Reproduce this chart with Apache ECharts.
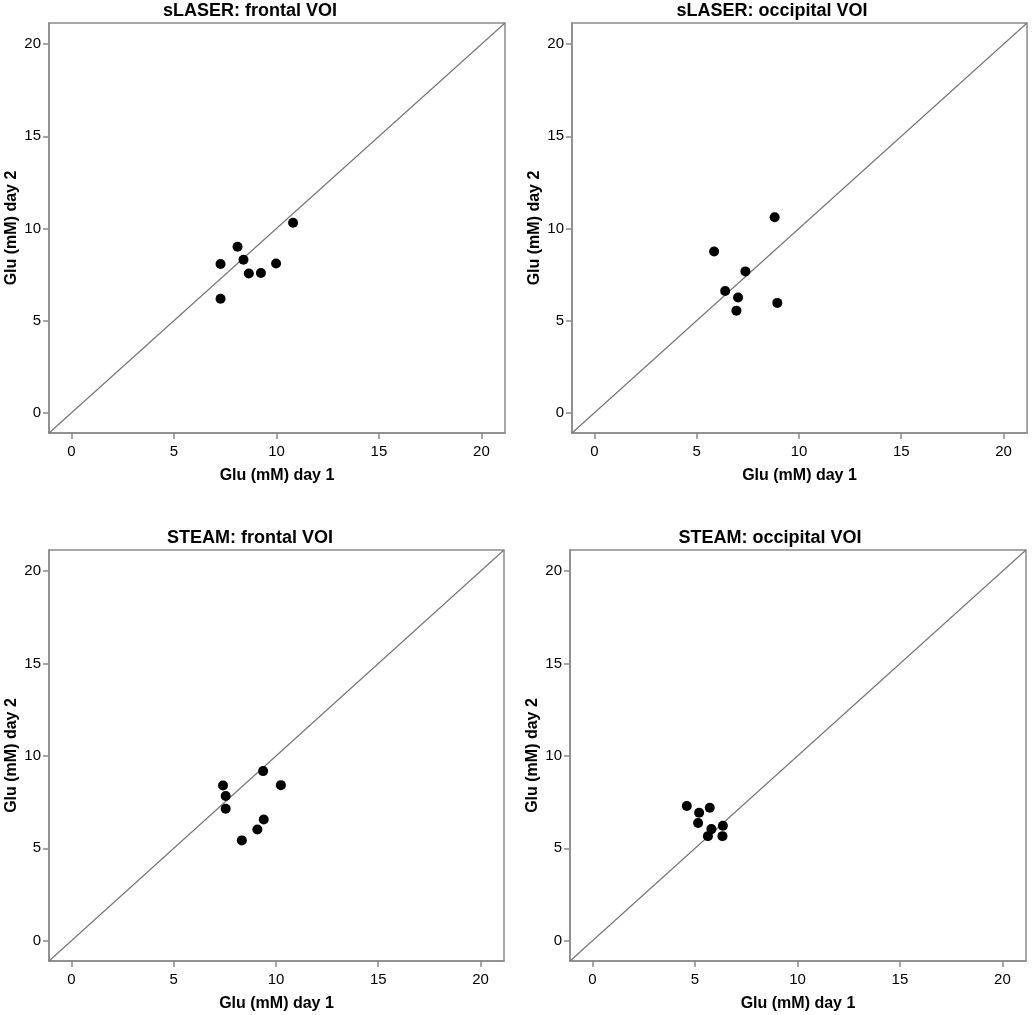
<!DOCTYPE html>
<html>
<head>
<meta charset="utf-8">
<script src="https://cdn.jsdelivr.net/npm/echarts@6/dist/echarts.min.js"></script>
<style>
html,body{margin:0;padding:0;background:#fff;}
#chart{width:1034px;height:1015px;}
</style>
</head>
<body>
<div id="chart"></div>
<script>
// Panel titles
const panelTitles = ['sLASER: frontal VOI', 'sLASER: occipital VOI', 'STEAM: frontal VOI', 'STEAM: occipital VOI'];
const xAxisName = 'Glu (mM) day 1';
const yAxisName = 'Glu (mM) day 2';
const tickValues = [0, 5, 10, 15, 20];
const axisMin = -1.1;
const axisMax = 21.15;

// Glu day 1 / day 2 per panel
const slaserFrontalDay1 = [7.27, 7.27, 8.10, 8.39, 8.65, 9.24, 9.98, 10.81];
const slaserFrontalDay2 = [8.07, 6.19, 9.01, 8.30, 7.56, 7.58, 8.10, 10.31];

const slaserOccipitalDay1 = [5.85, 6.39, 6.94, 7.02, 7.38, 8.81, 8.94];
const slaserOccipitalDay2 = [8.75, 6.61, 5.54, 6.25, 7.67, 10.61, 5.96];

const steamFrontalDay1 = [7.41, 7.54, 7.54, 9.37, 10.24, 9.40, 9.09, 8.33];
const steamFrontalDay2 = [8.40, 7.83, 7.14, 9.18, 8.42, 6.56, 6.02, 5.43];

const steamOccipitalDay1 = [4.60, 5.20, 5.72, 5.15, 5.80, 5.63, 6.36, 6.34];
const steamOccipitalDay2 = [7.29, 6.93, 7.20, 6.37, 6.04, 5.66, 6.22, 5.66];

const panels = [
  [slaserFrontalDay1, slaserFrontalDay2],
  [slaserOccipitalDay1, slaserOccipitalDay2],
  [steamFrontalDay1, steamFrontalDay2],
  [steamOccipitalDay1, steamOccipitalDay2]
];

// layout
const grids = [
  {left: 49, top: 23, width: 456, height: 410},
  {left: 572, top: 23, width: 455, height: 410},
  {left: 49, top: 550, width: 455, height: 411},
  {left: 570, top: 550, width: 456, height: 411}
];
const titlePos = [[250, 2], [772, 2], [250, 529], [770, 529]];

const FONT = '"Liberation Sans", Arial, sans-serif';
const frameColor = '#8a8a8a';

const option = {
  backgroundColor: '#ffffff',
  animation: false,
  title: panelTitles.map((t, i) => ({
    text: t,
    left: titlePos[i][0],
    top: titlePos[i][1],
    textAlign: 'center',
    padding: 0,
    textStyle: {fontFamily: FONT, fontWeight: 'bold', fontSize: 18, color: '#000'}
  })),
  grid: grids.map(g => Object.assign({
    show: true, borderColor: frameColor, borderWidth: 1.5, backgroundColor: 'transparent', containLabel: false
  }, g)),
  xAxis: grids.map((g, i) => ({
    type: 'value', gridIndex: i, min: axisMin, max: axisMax, position: 'bottom',
    name: xAxisName, nameLocation: 'middle', nameGap: 35,
    nameTextStyle: {fontFamily: FONT, fontWeight: 'bold', fontSize: 16, color: '#000'},
    axisLine: {show: true, onZero: false, lineStyle: {color: frameColor, width: 1.5}},
    axisTick: {show: true, inside: false, length: 6, customValues: tickValues, lineStyle: {color: frameColor, width: 1.5}},
    axisLabel: {customValues: tickValues, fontFamily: FONT, fontSize: 15, color: '#000', margin: 11},
    splitLine: {show: false}
  })),
  yAxis: grids.map((g, i) => ({
    type: 'value', gridIndex: i, min: axisMin, max: axisMax, position: 'left',
    name: yAxisName, nameLocation: 'middle', nameGap: 29,
    nameTextStyle: {fontFamily: FONT, fontWeight: 'bold', fontSize: 16, color: '#000'},
    axisLine: {show: true, onZero: false, lineStyle: {color: frameColor, width: 1.5}},
    axisTick: {show: true, inside: false, length: 6, customValues: tickValues, lineStyle: {color: frameColor, width: 1.5}},
    axisLabel: {customValues: tickValues, fontFamily: FONT, fontSize: 15, color: '#000', margin: 8},
    splitLine: {show: false}
  })),
  series: []
};

panels.forEach((p, i) => {
  option.series.push({
    type: 'line', xAxisIndex: i, yAxisIndex: i,
    data: [[axisMin, axisMin], [axisMax, axisMax]],
    showSymbol: false, symbol: 'none', silent: true,
    lineStyle: {color: '#777', width: 1.2},
    z: 2
  });
  option.series.push({
    type: 'scatter', xAxisIndex: i, yAxisIndex: i,
    data: p[0].map((x, k) => [x, p[1][k]]),
    symbol: 'circle', symbolSize: 10,
    itemStyle: {color: '#000', opacity: 1},
    z: 3
  });
});

const chart = echarts.init(document.getElementById('chart'));
chart.setOption(option);
</script>
</body>
</html>
